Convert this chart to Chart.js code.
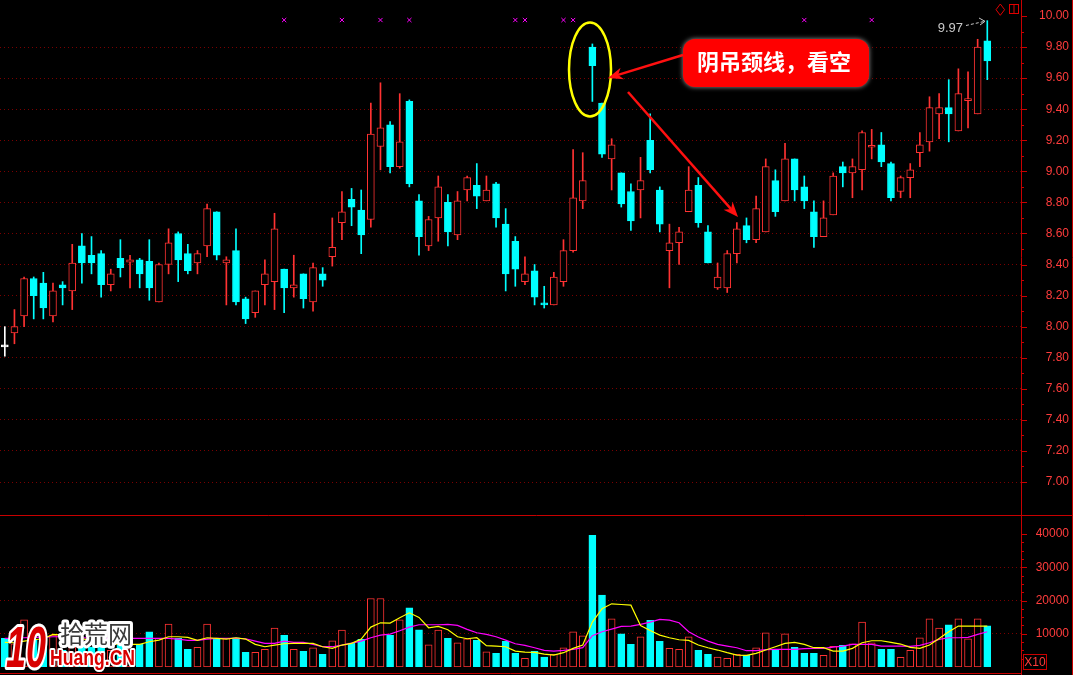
<!DOCTYPE html>
<html>
<head>
<meta charset="utf-8">
<title>阴吊颈线</title>
<script src="https://cdn.jsdelivr.net/npm/chart.js@4.4.1/dist/chart.umd.min.js"></script>
<style>
  html, body { margin: 0; padding: 0; background: #000; overflow: hidden; }
  #wrap { position: relative; width: 1073px; height: 675px; }
  #priceBox { position: absolute; left: 0; top: 0; width: 1073px; height: 515px; }
  #volBox { position: absolute; left: 0; top: 515px; width: 1073px; height: 160px; }
</style>
</head>
<body>
<div id="wrap">
  <div id="priceBox"><canvas id="priceChart"></canvas></div>
  <div id="volBox"><canvas id="volChart"></canvas></div>
</div>
<script>
// daily bars
const opens = [7.87, 7.96, 8.07, 8.31, 8.28, 8.07, 8.27, 8.23, 8.52, 8.46, 8.47, 8.27, 8.44, 8.415, 8.43, 8.42, 8.16, 8.40, 8.60, 8.47,
  8.41, 8.52, 8.74, 8.41, 8.49, 8.18, 8.09, 8.27, 8.29, 8.37, 8.25, 8.34, 8.16, 8.34, 8.45, 8.67, 8.82, 8.75, 8.69, 9.16,
  9.30, 9.03, 9.45, 8.81, 8.52, 8.70, 8.80, 8.59, 8.88, 8.91, 8.81, 8.92, 8.66, 8.55, 8.29, 8.36, 8.15, 8.14, 8.29, 8.49,
  8.81, 9.80, 9.44, 9.08, 8.99, 8.87, 8.88, 9.20, 8.88, 8.49, 8.54, 8.74, 8.91, 8.61, 8.25, 8.25, 8.47, 8.65, 8.56, 8.61,
  8.94, 8.81, 9.08, 8.90, 8.74, 8.58, 8.72, 9.03, 8.99, 9.01, 9.155, 9.17, 9.05, 8.87, 8.96, 9.12, 9.19, 9.37, 9.41, 9.26,
  9.455, 9.37, 9.84];
const highs = [8.00, 8.11, 8.32, 8.32, 8.35, 8.28, 8.29, 8.53, 8.60, 8.58, 8.49, 8.37, 8.56, 8.46, 8.44, 8.56, 8.41, 8.63, 8.61, 8.53,
  8.49, 8.79, 8.74, 8.45, 8.63, 8.19, 8.23, 8.43, 8.73, 8.37, 8.46, 8.34, 8.41, 8.38, 8.70, 8.87, 8.89, 8.88, 9.44, 9.57,
  9.32, 9.50, 9.46, 8.85, 8.71, 8.97, 8.85, 8.87, 8.97, 9.05, 8.97, 8.93, 8.76, 8.58, 8.45, 8.40, 8.26, 8.35, 8.56, 9.14,
  9.12, 9.82, 9.44, 9.21, 8.99, 8.92, 9.09, 9.37, 8.90, 8.66, 8.64, 9.03, 8.96, 8.65, 8.41, 8.49, 8.67, 8.70, 8.84, 9.08,
  9.01, 9.18, 9.08, 8.97, 8.81, 8.81, 8.99, 9.06, 9.08, 9.26, 9.27, 9.25, 9.06, 8.97, 9.05, 9.25, 9.48, 9.50, 9.59, 9.66,
  9.64, 9.85, 9.97];
const lows = [7.81, 7.89, 8.00, 8.05, 8.05, 8.03, 8.14, 8.11, 8.28, 8.34, 8.19, 8.23, 8.32, 8.25, 8.25, 8.17, 8.16, 8.34, 8.29, 8.34,
  8.34, 8.45, 8.43, 8.14, 8.14, 8.02, 8.06, 8.14, 8.11, 8.09, 8.19, 8.12, 8.10, 8.26, 8.39, 8.56, 8.65, 8.47, 8.64, 9.01,
  8.99, 9.02, 8.90, 8.46, 8.49, 8.55, 8.52, 8.56, 8.81, 8.76, 8.81, 8.64, 8.23, 8.26, 8.27, 8.14, 8.12, 8.14, 8.26, 8.48,
  8.76, 9.45, 9.09, 8.88, 8.77, 8.62, 8.70, 8.99, 8.61, 8.25, 8.40, 8.74, 8.64, 8.41, 8.24, 8.22, 8.41, 8.54, 8.54, 8.61,
  8.71, 8.81, 8.81, 8.76, 8.51, 8.58, 8.72, 8.90, 8.83, 8.88, 9.08, 9.03, 8.81, 8.83, 8.83, 9.03, 9.13, 9.21, 9.19, 9.26,
  9.28, 9.37, 9.59];
const closes = [7.87, 8.00, 8.31, 8.20, 8.12, 8.23, 8.25, 8.41, 8.41, 8.41, 8.27, 8.34, 8.38, 8.43, 8.34, 8.25, 8.40, 8.54, 8.43, 8.36,
  8.47, 8.76, 8.46, 8.43, 8.16, 8.05, 8.23, 8.34, 8.63, 8.25, 8.27, 8.18, 8.38, 8.30, 8.51, 8.74, 8.77, 8.59, 9.24, 9.28,
  9.03, 9.19, 8.92, 8.58, 8.69, 8.90, 8.61, 8.81, 8.96, 8.84, 8.88, 8.70, 8.34, 8.37, 8.34, 8.19, 8.14, 8.32, 8.49, 8.83,
  8.94, 9.68, 9.11, 9.17, 8.79, 8.68, 8.94, 9.01, 8.66, 8.54, 8.61, 8.88, 8.67, 8.41, 8.32, 8.47, 8.63, 8.56, 8.76, 9.03,
  8.74, 9.08, 8.88, 8.81, 8.58, 8.70, 8.97, 8.99, 9.03, 9.25, 9.16, 9.06, 8.83, 8.96, 9.01, 9.17, 9.41, 9.41, 9.37, 9.50,
  9.46, 9.80, 9.71];
const volumes = [8600, 7000, 14200, 8000, 6000, 9600, 5000, 9000, 7500, 6000, 7000, 5000, 6500, 5500, 6800, 10600, 8600, 12900, 8600, 5300,
  5900, 12900, 8600, 8600, 8800, 4400, 4400, 5300, 11700, 9500, 5300, 4700, 5800, 3800, 7900, 11100, 7200, 8300, 20600, 20600,
  9500, 14200, 17800, 11200, 6700, 11100, 8600, 7300, 8500, 8000, 4600, 4100, 7700, 4100, 2600, 4700, 3000, 3800, 5800, 10600,
  9400, 39600, 21600, 14500, 10000, 6800, 9100, 14000, 7700, 5600, 5300, 9100, 5000, 3800, 3000, 2600, 3800, 3500, 5800, 10300,
  5000, 10000, 5900, 4100, 4100, 3500, 6200, 6500, 7000, 13500, 7300, 5300, 5300, 2900, 5000, 8800, 14500, 11700, 12700, 14500,
  8500, 14500, 12400];
// volume average lines as drawn (yellow short, magenta long)
const volMaShort = [7400, 7300, 7800, 8200, 8500, 9800, 9600, 9000, 8500, 8000, 7500, 7000, 6800, 6800, 6800, 7600, 8100, 9100, 9100, 8900,
  8000, 8800, 8600, 8400, 8800, 8400, 6800, 6100, 6600, 7000, 7100, 7100, 7100, 6100, 5600, 6600, 7100, 8400, 12000, 13300,
  13200, 14800, 16300, 14900, 11800, 12200, 11200, 9100, 8500, 8800, 6400, 6300, 6100, 4800, 4500, 4400, 3900, 3600, 4300, 5600,
  6600, 13500, 17500, 19000, 18800, 18600, 12500, 11000, 9600, 8800, 8200, 8000, 6600, 5800, 5100, 4300, 3600, 3500, 4100, 5100,
  6100, 7100, 7400, 6800, 5800, 5800, 4800, 4800, 5600, 7300, 7900, 7900, 7400, 6900, 5900, 5600, 6600, 8600, 10600, 12300,
  12300, 12300, 12300];
const volMaLong = [8600, 8600, 8800, 8900, 9000, 9100, 9100, 8900, 8800, 8700, 8600, 8600, 8600, 8600, 8600, 8600, 8600, 8600, 8400, 8000,
  8000, 8400, 8600, 8600, 8600, 8500, 7800, 7100, 7100, 7800, 7400, 7400, 6800, 6100, 6100, 6600, 7200, 7800, 8800, 9600,
  9900, 10900, 12000, 12700, 12700, 12700, 12800, 12500, 11300, 10300, 9800, 9100, 8100, 7000, 6500, 5800, 5000, 4800, 5000, 5300,
  5800, 9400, 10600, 11400, 12200, 12300, 12800, 13500, 14300, 14100, 13300, 10600, 9000, 7800, 6800, 6300, 5800, 4900, 4900, 5200,
  5300, 5300, 5300, 5500, 5600, 5600, 6000, 6300, 6800, 6800, 6800, 6300, 6300, 6300, 6200, 6500, 7300, 8300, 8800, 8800,
  8900, 9800, 10600];
// days carrying the small magenta cross at the top
const markDays = [30, 36, 40, 43, 54, 55, 59, 60, 84, 91];
const markLevel = 9.974;
const priceTicks = [10.0, 9.8, 9.6, 9.4, 9.2, 9.0, 8.8, 8.6, 8.4, 8.2, 8.0, 7.8, 7.6, 7.4, 7.2, 7.0];
const volTicks = [40000, 30000, 20000, 10000];
const days = opens.map((_, i) => String(i + 1)).concat(['', '', '']);

const UP = '#ff3232', DOWN = '#00ffff', FLAT = '#ffffff';
const AXIS = '#c80000', LABEL = '#ff3c3c', GRID = '#7a0000';

const candleColor = opens.map((o, i) => closes[i] > o ? UP : closes[i] < o ? DOWN : FLAT);
const volColor = opens.map((o, i) => closes[i] > o ? UP : DOWN);

function noHover() {
  return { legend: { display: false }, tooltip: { enabled: false } };
}

// axis lines, minor ticks, chart furniture
const priceDecor = {
  id: 'priceDecor',
  afterDraw(chart) {
    const ctx = chart.ctx, y = chart.scales.y, area = chart.chartArea;
    ctx.save();
    ctx.strokeStyle = AXIS;
    ctx.lineWidth = 1;
    ctx.beginPath();
    ctx.moveTo(area.right + 0.5, 0); ctx.lineTo(area.right + 0.5, chart.height);
    ctx.moveTo(1072.5, 0); ctx.lineTo(1072.5, chart.height);
    priceTicks.forEach((v, i) => {
      const py = Math.round(y.getPixelForValue(v)) + 0.5;
      ctx.moveTo(area.right, py); ctx.lineTo(area.right + 6, py);
      if (i > 0) {
        const my = Math.round(y.getPixelForValue((v + priceTicks[i - 1]) / 2)) + 0.5;
        ctx.moveTo(area.right, my); ctx.lineTo(area.right + 3, my);
      }
    });
    ctx.stroke();

    // top-right icons
    ctx.strokeStyle = '#e00000';
    ctx.beginPath();
    ctx.moveTo(1000.3, 4); ctx.lineTo(1004.6, 9.7); ctx.lineTo(1000.3, 15.3); ctx.lineTo(996, 9.7); ctx.closePath();
    ctx.stroke();
    ctx.strokeRect(1009.5, 4.5, 9, 9);
    ctx.beginPath(); ctx.moveTo(1014, 4.5); ctx.lineTo(1014, 13.5); ctx.stroke();

    // last high label
    ctx.fillStyle = '#c8c8c8';
    ctx.font = '13px "Liberation Sans"';
    ctx.textAlign = 'right';
    ctx.textBaseline = 'middle';
    ctx.fillText('9.97', 963, 28);
    ctx.strokeStyle = '#c8c8c8';
    ctx.setLineDash([3, 2]);
    ctx.beginPath(); ctx.moveTo(966, 25.5); ctx.lineTo(984, 21.5); ctx.stroke();
    ctx.setLineDash([]);
    ctx.beginPath(); ctx.moveTo(979, 18); ctx.lineTo(985, 21.3); ctx.lineTo(980, 25); ctx.stroke();

    // yellow ring round the hanging candle
    ctx.strokeStyle = '#ffff00';
    ctx.lineWidth = 2.5;
    ctx.beginPath();
    ctx.ellipse(590, 69.5, 21, 47, 0, 0, Math.PI * 2);
    ctx.stroke();

    // callout
    ctx.shadowColor = 'rgba(190,190,190,0.8)';
    ctx.shadowBlur = 5;
    ctx.fillStyle = '#ff0000';
    ctx.beginPath();
    ctx.roundRect(683, 39, 186, 48, 12);
    ctx.fill();
    ctx.shadowBlur = 0;
    ctx.fillStyle = '#ffffff';
    ctx.font = 'bold 22px "Noto Sans CJK SC"';
    ctx.textAlign = 'left';
    ctx.fillText('阴吊颈线，看空', 697, 62);

    arrow(ctx, 683, 55, 608, 78);
    arrow(ctx, 628, 92, 738, 217);
    ctx.restore();
  }
};

function arrow(ctx, x1, y1, x2, y2) {
  const a = Math.atan2(y2 - y1, x2 - x1), len = 15, w = 6;
  const c = Math.cos(a), s = Math.sin(a);
  ctx.strokeStyle = '#ff1010';
  ctx.fillStyle = '#ff1010';
  ctx.lineWidth = 2.5;
  ctx.beginPath();
  ctx.moveTo(x1, y1);
  ctx.lineTo(x2 - len * 0.7 * c, y2 - len * 0.7 * s);
  ctx.stroke();
  ctx.beginPath();
  ctx.moveTo(x2, y2);
  ctx.lineTo(x2 - len * c + w * s, y2 - len * s - w * c);
  ctx.lineTo(x2 - len * 0.7 * c, y2 - len * 0.7 * s);
  ctx.lineTo(x2 - len * c - w * s, y2 - len * s + w * c);
  ctx.closePath();
  ctx.fill();
}

const volDecor = {
  id: 'volDecor',
  afterDraw(chart) {
    const ctx = chart.ctx, y = chart.scales.y, area = chart.chartArea;
    ctx.save();
    ctx.strokeStyle = AXIS;
    ctx.lineWidth = 1;
    ctx.beginPath();
    ctx.moveTo(0, 0.5); ctx.lineTo(chart.width, 0.5);
    ctx.moveTo(0, 158.5); ctx.lineTo(area.right, 158.5);
    ctx.moveTo(area.right + 0.5, 0); ctx.lineTo(area.right + 0.5, chart.height);
    ctx.moveTo(1072.5, 0); ctx.lineTo(1072.5, chart.height);
    volTicks.forEach(v => {
      const py = Math.round(y.getPixelForValue(v)) + 0.5;
      ctx.moveTo(area.right, py); ctx.lineTo(area.right + 6, py);
      [2500, 5000, 7500].forEach(d => {
        const my = Math.round(y.getPixelForValue(v - d)) + 0.5;
        ctx.moveTo(area.right, my); ctx.lineTo(area.right + 3, my);
      });
    });
    ctx.stroke();

    ctx.strokeRect(1023.5, 139.5, 23, 15);
    ctx.fillStyle = LABEL;
    ctx.font = '12px "Liberation Sans"';
    ctx.textAlign = 'center';
    ctx.textBaseline = 'middle';
    ctx.fillText('X10', 1035, 147.5);

    // site watermark
    ctx.lineJoin = 'round';
    ctx.save();
    ctx.translate(6, 152);
    ctx.scale(0.62, 1);
    ctx.font = 'bold italic 58px "Liberation Sans"';
    ctx.textAlign = 'left';
    ctx.textBaseline = 'alphabetic';
    ctx.strokeStyle = '#ffffff';
    ctx.lineWidth = 6;
    ctx.strokeText('10', 0, 0);
    ctx.fillStyle = '#d80000';
    ctx.fillText('10', 0, 0);
    ctx.restore();

    ctx.font = '24px "Noto Sans CJK SC"';
    ctx.textAlign = 'left';
    ctx.textBaseline = 'middle';
    ctx.strokeStyle = '#ffffff';
    ctx.lineWidth = 6;
    ctx.strokeText('拾荒网', 60, 119);
    ctx.fillStyle = '#3a3a3a';
    ctx.fillText('拾荒网', 60, 119);

    ctx.save();
    ctx.translate(50, 150);
    ctx.scale(0.8, 1);
    ctx.font = 'bold 22px "Liberation Sans"';
    ctx.textBaseline = 'alphabetic';
    ctx.strokeStyle = '#ffffff';
    ctx.lineWidth = 4;
    ctx.strokeText('Huang.CN', 0, 0);
    ctx.fillStyle = '#d80000';
    ctx.fillText('Huang.CN', 0, 0);
    ctx.restore();
    ctx.restore();
  }
};

document.addEventListener('DOMContentLoaded', function () {
  Chart.defaults.font.family = '"Liberation Sans", Arial, sans-serif';

  new Chart(document.getElementById('priceChart'), {
    type: 'bar',
    data: {
      labels: days,
      datasets: [
        {
          label: 'body',
          data: opens.map((o, i) => [o, closes[i]]),
          backgroundColor: candleColor.map(c => c === UP ? '#000000' : c),
          borderColor: candleColor,
          borderWidth: 1,
          borderSkipped: false,
          barThickness: 7,
          minBarLength: 2,
          grouped: false,
          order: 1
        },
        {
          label: 'wick',
          data: lows.map((l, i) => [l, highs[i]]),
          backgroundColor: candleColor,
          borderWidth: 0,
          barThickness: 1,
          grouped: false,
          order: 2
        },
        {
          type: 'line',
          label: 'marks',
          data: days.map(d => markDays.includes(Number(d)) ? markLevel : null),
          showLine: false,
          pointStyle: 'crossRot',
          pointRadius: 3,
          borderColor: '#ff00ff',
          borderWidth: 1,
          order: 0
        }
      ]
    },
    options: {
      responsive: true,
      maintainAspectRatio: false,
      animation: false,
      events: [],
      layout: { autoPadding: false, padding: { top: 10, bottom: 10, left: 0, right: 4 } },
      plugins: noHover(),
      scales: {
        x: { display: false },
        y: {
          position: 'right',
          min: 6.852,
          max: 10.0386,
          afterBuildTicks: s => { s.ticks = priceTicks.map(v => ({ value: v })); },
          afterFit: s => { s.width = 48; },
          ticks: {
            color: LABEL,
            font: { size: 12 },
            crossAlign: 'far',
            padding: 0,
            autoSkip: false,
            callback: v => v.toFixed(2)
          },
          grid: {
            color: c => c.tick && c.tick.value > 9.9 ? 'rgba(0,0,0,0)' : GRID,
            tickColor: 'rgba(0,0,0,0)',
            tickLength: 18
          },
          border: { display: false, dash: [1, 3] }
        }
      }
    },
    plugins: [priceDecor]
  });

  new Chart(document.getElementById('volChart'), {
    type: 'bar',
    data: {
      labels: days,
      datasets: [
        {
          type: 'line',
          label: 'short',
          data: volMaShort,
          borderColor: '#ffff00',
          borderWidth: 1.2,
          pointRadius: 0,
          order: 0
        },
        {
          type: 'line',
          label: 'long',
          data: volMaLong,
          borderColor: '#ff00ff',
          borderWidth: 1.2,
          pointRadius: 0,
          order: 0
        },
        {
          label: 'volume',
          data: volumes,
          backgroundColor: volColor.map(c => c === UP ? '#000000' : c),
          borderColor: volColor,
          borderWidth: 1,
          borderSkipped: false,
          barThickness: 7,
          grouped: false,
          order: 1
        }
      ]
    },
    options: {
      responsive: true,
      maintainAspectRatio: false,
      animation: false,
      events: [],
      layout: { autoPadding: false, padding: { top: 10, bottom: 8, left: 0, right: 4 } },
      plugins: noHover(),
      scales: {
        x: { display: false },
        y: {
          position: 'right',
          min: 0,
          max: 42707,
          afterBuildTicks: s => { s.ticks = volTicks.map(v => ({ value: v })); },
          afterFit: s => { s.width = 48; },
          ticks: {
            color: LABEL,
            font: { size: 12 },
            crossAlign: 'far',
            padding: 0,
            autoSkip: false,
            callback: v => String(v)
          },
          grid: {
            color: c => c.tick && c.tick.value > 35000 ? 'rgba(0,0,0,0)' : GRID,
            tickColor: 'rgba(0,0,0,0)',
            tickLength: 15
          },
          border: { display: false, dash: [1, 3] }
        }
      }
    },
    plugins: [volDecor]
  });
});
</script>
</body>
</html>
